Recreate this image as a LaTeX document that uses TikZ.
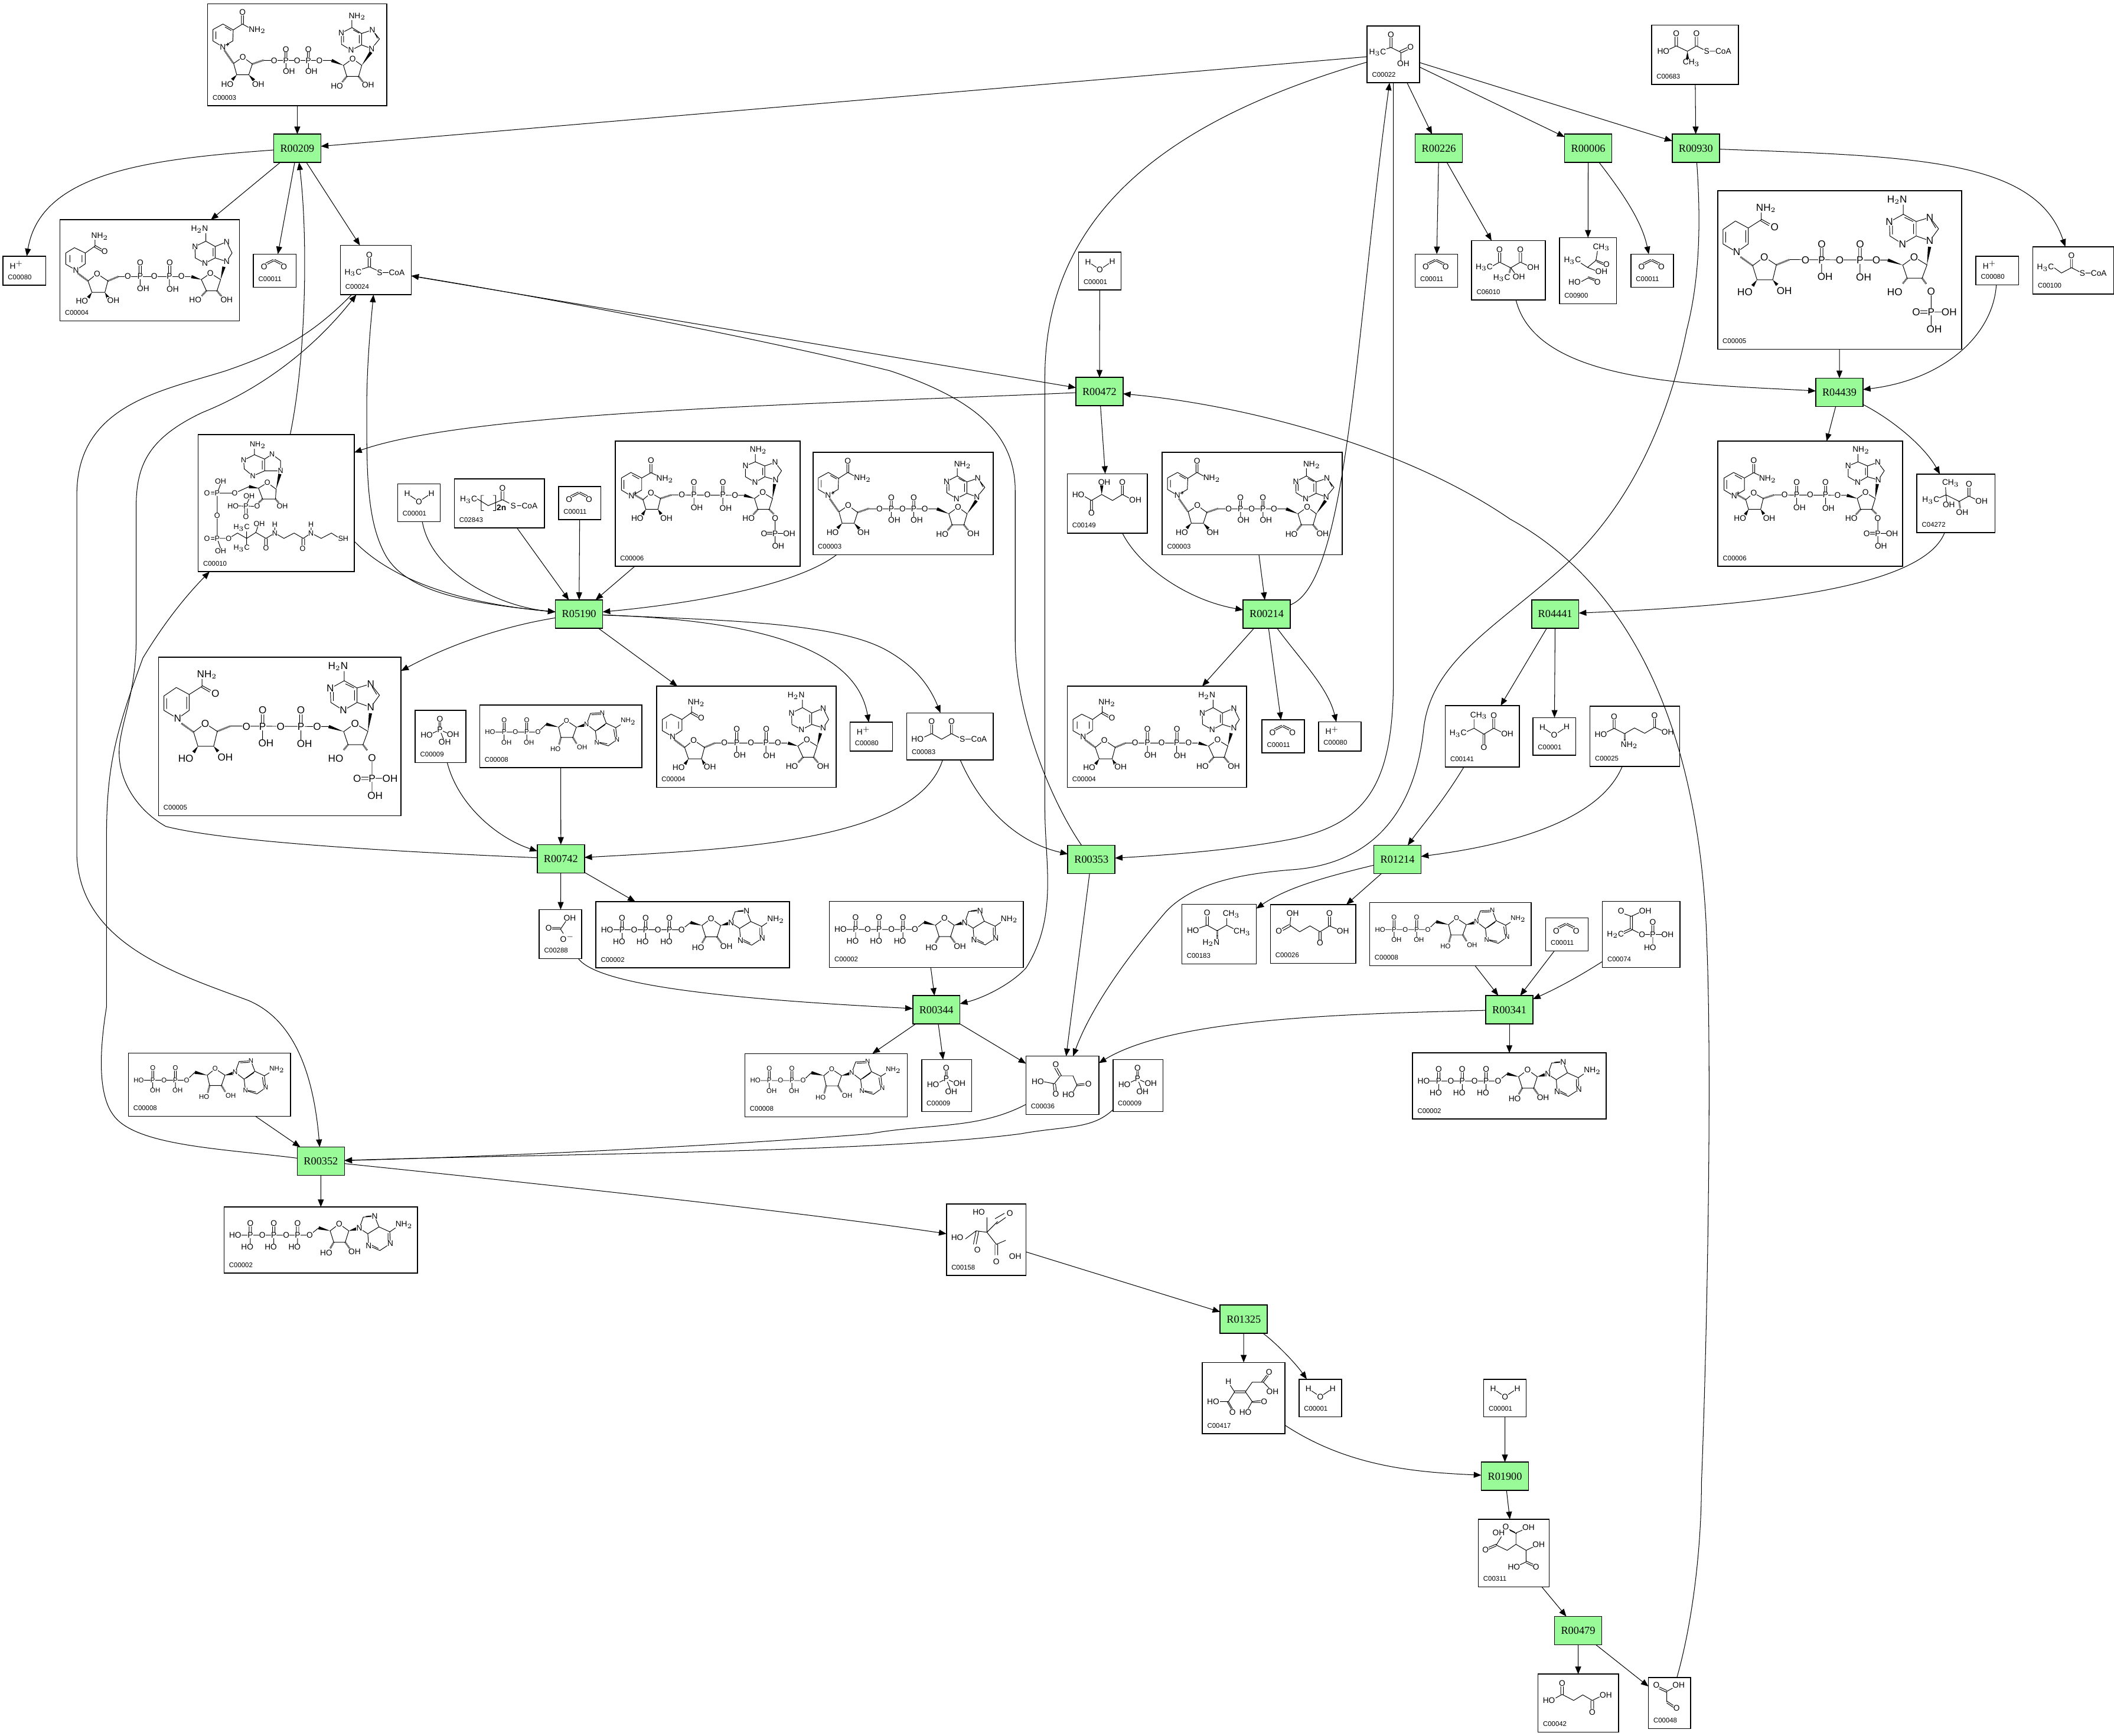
\documentclass[tikz,border=0pt]{standalone}
\usepackage{fontspec}
\setmainfont{Liberation Serif}
\newfontfamily\chemfont{Liberation Sans}
\usetikzlibrary{arrows.meta,calc}

\definecolor{rxgreen}{HTML}{98FB98}
\tikzset{
  cbox/.style={draw,fill=white,line width=.7pt,inner sep=0pt,outer sep=0pt},
  rbox/.style={draw,fill=rxgreen,line width=.7pt,inner sep=0pt,outer sep=0pt,minimum width=35pt,minimum height=21pt,font=\fontsize{8}{8}\selectfont},
  cid/.style={anchor=west,inner sep=0pt,font=\fontsize{5}{5}\selectfont\chemfont},
  rx/.style={line width=.45pt,-{Triangle[length=5.6pt,width=4.4pt]}},
  bond/.style={line width=.42pt},
  hsh/.style={line width=1.3pt,dash pattern=on .35pt off .45pt},
  zm/.style n args={5}{shift={(#1.north west)},x=#2pt,y=-#3pt,shift={(-#4,-#5)}}
}
\newcommand{\cpd}[6]{\node[cbox,minimum width={(#4-#2)*1pt},minimum height={(#5-#3)*1pt}] (#1) at ({(#2+#4)/2},{(#3+#5)/2}) {};
  \node[cid] (#1id) at ([xshift=3.5pt,yshift=6pt]#1.south west) {#6};}
\newcommand{\rxn}[3]{\node[rbox] (#1) at (#2,#3) {#1};}
\newcommand{\atoms}[2][6]{\foreach \ax/\ay/\atxt in {#2} \node[inner sep=.1pt,fill=white,font=\fontsize{#1}{#1}\selectfont\chemfont] (atm) at (\ax,\ay) {\atxt};}
\newcommand{\wdg}[2]{\fill (#1)--($(#2)!1.2pt!90:(#1)$)--($(#2)!1.2pt!-90:(#1)$)--cycle;}

% cofactors
\newcommand{\molNAD}[1]{\begin{scope}[zm={#1}{.146}{.146}{155}{19}]
  \draw[bond] (233,122)--(285,152)--(283,208)--(232,238)--(182,208)--(182,150)--cycle (197,160)--(197,198) (243,137)--(275,155) (285,152)--(332,122)--(370,143) (327,122)--(327,78) (337,122)--(337,78) (248,226)--(264,226) (256,218)--(256,234);
  \draw[bond] (287,322)--(334,290)--(382,325)--(364,380)--(303,380)--cycle (440,307)--(785,307) (548,307)--(548,262) (558,307)--(558,262) (553,307)--(553,350) (662,307)--(662,262) (672,307)--(672,262) (667,307)--(667,350);
  \draw[bond] (845,332)--(892,298)--(938,332)--(922,388)--(862,388)--cycle (888,140)--(834,168)--(835,225)--(884,255)--(937,228)--(937,170)--cycle (888,140)--(888,100) (937,170)--(992,152)--(1028,198)--(988,247)--(937,228) (925,178)--(925,220) (846,178)--(846,215) (895,152)--(925,168) (1000,160)--(1018,195);
  \draw[hsh] (240,255)--(285,320) (382,325)--(440,305) (862,388)--(838,418) (922,388)--(945,418);
  \wdg{303,380}{280,405}\wdg{364,380}{390,408}\wdg{845,332}{785,307}\wdg{938,332}{985,265}
  \atoms{332/63/O,407/152/NH$_2$,232/238/N,334/290/O,255/427/HO,412/427/OH,493/307/O,553/307/P,610/307/O,667/307/P,723/307/O,553/250/O,667/250/O,568/363/OH,682/363/OH,892/298/O,812/436/HO,970/432/OH,915/83/NH$_2$,834/168/N,884/255/N,992/152/N,988/247/N}
\end{scope}}
\newcommand{\molNADH}[1]{\begin{scope}[zm={#1}{.2235}{.146}{199}{216}]
  \draw[bond] (252,472)--(283,440)--(283,385)--(247,358)--(218,385)--(218,442)--cycle (232,395)--(232,432) (272,395)--(272,432) (283,385)--(315,350)--(315,315) (315,346)--(345,372) (312,354)--(342,380);
  \draw[bond] (292,527)--(322,490)--(358,527)--(348,585)--(305,585)--cycle (392,505)--(632,505) (461,503)--(461,450) (469,503)--(469,450) (465,503)--(465,550) (559,503)--(559,450) (567,503)--(567,450) (562,503)--(562,553);
  \draw[bond] (668,520)--(698,488)--(732,520)--(720,577)--(685,577)--cycle (683,325)--(647,352)--(648,410)--(680,437)--(714,410)--(714,352)--cycle (683,325)--(683,285) (714,352)--(752,328)--(770,385)--(752,428)--(714,410) (707,360)--(707,402);
  \draw[hsh] (258,488)--(292,527) (358,527)--(392,505) (685,577)--(668,605) (720,577)--(735,605);
  \wdg{305,585}{293,612}\wdg{348,585}{358,612}\wdg{668,520}{635,505}\wdg{732,520}{743,455}
  \atoms{347/376/O,331/300/NH$_2$,252/472/N,322/490/O,272/628/HO,376/625/OH,424/503/O,465/503/P,512/503/O,562/503/P,602/503/O,465/435/O,563/435/O,475/565/OH,573/568/OH,698/488/O,648/622/HO,752/622/OH,662/265/H$_2$N,647/352/N,680/437/N,752/328/N,752/428/N}
\end{scope}}
\newcommand{\molNADPH}[1]{\begin{scope}[zm={#1}{.191}{.1788}{19}{8}]
  \draw[bond] (93,262)--(138,228)--(138,162)--(88,133)--(40,168)--(40,228)--cycle (50,178)--(50,222) (128,172)--(128,222) (138,162)--(188,128)--(188,98) (188,125)--(222,145) (186,132)--(218,152);
  \draw[bond] (155,318)--(200,282)--(247,315)--(233,377)--(172,377)--cycle (298,293)--(680,295) (418,296)--(418,245) (428,296)--(428,245) (423,296)--(423,350) (567,296)--(567,245) (577,296)--(577,245) (572,296)--(572,350);
  \draw[bond] (738,316)--(782,282)--(832,315)--(813,370)--(755,370)--cycle (740,105)--(686,137)--(688,195)--(737,228)--(790,195)--(790,135)--cycle (740,105)--(740,65) (790,135)--(843,118)--(877,165)--(843,215)--(790,195) (780,145)--(780,187) (698,150)--(698,188) (745,118)--(778,135) (848,130)--(866,162) (848,425)--(848,583) (805,505)--(848,505) (805,515)--(848,515) (848,510)--(895,510);
  \draw[hsh] (108,282)--(155,318) (247,315)--(298,293) (755,370)--(738,392) (813,370)--(830,395);
  \wdg{172,377}{155,402}\wdg{233,377}{250,398}\wdg{738,316}{680,295}\wdg{832,315}{842,240}
  \atoms[7.5]{240/158/O,207/80/NH$_2$,93/262/N,200/282/O,125/428/HO,278/423/OH,360/296/O,423/296/P,493/296/O,572/296/P,635/296/O,423/228/O,572/228/O,436/365/OH,586/367/OH,782/282/O,707/427/HO,848/425/O,716/45/H$_2$N,686/137/N,737/228/N,843/118/N,843/215/N,848/510/P,790/510/O,918/510/OH,860/583/OH}
\end{scope}}
\newcommand{\molNADP}[1]{\begin{scope}[zm={#1}{.191}{.1788}{19}{1047}]
  \draw[bond] (82,1275)--(122,1250)--(122,1200)--(80,1177)--(43,1200)--(43,1250)--cycle (53,1208)--(53,1245) (85,1188)--(112,1204) (122,1200)--(158,1178)--(192,1195) (154,1178)--(154,1142) (162,1178)--(162,1142) (90,1262)--(104,1262) (97,1255)--(97,1269);
  \draw[bond] (127,1290)--(158,1262)--(195,1285)--(185,1330)--(138,1330)--cycle (238,1270)--(520,1272) (321,1270)--(321,1232) (329,1270)--(329,1232) (325,1270)--(325,1310) (433,1270)--(433,1232) (441,1270)--(441,1232) (437,1270)--(437,1310);
  \draw[bond] (560,1285)--(592,1260)--(630,1285)--(617,1330)--(573,1330)--cycle (563,1133)--(525,1150)--(525,1195)--(562,1218)--(600,1195)--(600,1150)--cycle (563,1133)--(563,1100) (600,1150)--(640,1135)--(665,1170)--(642,1208)--(600,1195) (592,1158)--(592,1188) (640,1366)--(640,1483) (605,1425)--(640,1425) (605,1433)--(640,1433) (640,1430)--(675,1430);
  \draw[hsh] (95,1270)--(127,1290) (195,1285)--(238,1270) (573,1330)--(555,1352) (617,1330)--(635,1350);
  \wdg{138,1330}{125,1352}\wdg{185,1330}{197,1350}\wdg{560,1285}{520,1272}\wdg{630,1285}{638,1225}
  \atoms{158/1128/O,212/1205/NH$_2$,82/1275/N,158/1262/O,105/1367/HO,218/1366/OH,278/1270/O,325/1270/P,377/1270/O,437/1270/P,484/1272/O,325/1218/O,437/1218/O,336/1322/OH,448/1325/OH,592/1260/O,537/1366/HO,640/1366/O,575/1085/NH$_2$,525/1150/N,562/1218/N,640/1135/N,642/1208/N,640/1430/P,597/1430/O,695/1430/OH,652/1483/OH}
\end{scope}}
\newcommand{\molATP}[1]{\begin{scope}[zm={#1}{.2235}{.146}{48}{79}]
  \draw[bond] (85,222)--(332,222)--(362,185) (131,222)--(131,175) (139,222)--(139,175) (135,222)--(135,270) (209,222)--(209,175) (217,222)--(217,175) (213,222)--(213,270) (288,222)--(288,175) (296,222)--(296,175) (292,222)--(292,270);
  \draw[bond] (400,200)--(430,165)--(462,200)--(450,258)--(412,258)--cycle (497,187)--(510,130)--(548,127)--(562,180)--(525,215)--cycle (562,180)--(598,205)--(600,265)--(565,300)--(528,275)--(525,215) (518,127)--(542,122) (532,208)--(556,186) (592,212)--(592,255) (535,270)--(560,290) (598,205)--(622,180);
  \draw[hsh] (412,258)--(400,290) (450,258)--(465,290);
  \wdg{400,200}{362,185}\wdg{462,200}{487,190}
  \atoms{85/222/HO,135/222/P,175/222/O,213/222/P,254/222/O,292/222/P,332/222/O,135/162/O,213/162/O,292/162/O,125/282/HO,203/282/HO,282/282/HO,430/165/O,387/313/HO,481/307/OH,497/187/N,548/127/N,600/265/N,528/275/N,645/170/NH$_2$}
\end{scope}}
\newcommand{\molADP}[1]{\begin{scope}[zm={#1}{.146}{.146}{367}{43}]
  \draw[bond] (420,180)--(663,180)--(705,140) (486,180)--(486,132) (496,180)--(496,132) (491,180)--(491,220) (601,180)--(601,132) (611,180)--(611,132) (606,180)--(606,220);
  \draw[bond] (768,155)--(808,122)--(858,155)--(840,207)--(780,207)--cycle (910,140)--(930,85)--(990,82)--(1010,135)--(955,175)--cycle (1010,135)--(1058,158)--(1065,218)--(1020,250)--(962,232)--(955,175) (935,92)--(980,90) (965,170)--(1005,142) (1048,165)--(1054,205) (975,232)--(1015,240) (1058,158)--(1095,135);
  \draw[hsh] (780,207)--(770,245) (840,207)--(860,240);
  \wdg{768,155}{705,140}\wdg{858,155}{900,145}
  \atoms[5]{420/180/HO,491/180/P,548/180/O,606/180/P,663/180/O,491/118/O,606/118/O,503/233/OH,617/233/OH,808/122/O,752/266/HO,887/258/OH,910/140/N,990/82/N,1065/218/N,962/232/N,1122/126/NH$_2$}
\end{scope}}
% small compounds
\newcommand{\molPi}[1]{\begin{scope}[zm={#1}{.146}{.146}{40}{70}]
  \draw[bond] (161,168)--(161,125) (169,168)--(169,125) (165,168)--(115,192) (165,168)--(215,190) (165,168)--(185,220);
  \atoms{165/113/O,165/168/P,98/196/HO,232/192/OH,190/232/OH}
\end{scope}}
\newcommand{\molCO}[1]{\begin{scope}[zm={#1}{.2235}{.146}{842}{391}]
  \draw[bond] (885,445)--(910,425)--(935,445) (882,437)--(908,418) (938,437)--(912,418);
  \atoms{877/456/O,943/456/O}
\end{scope}}
\newcommand{\molHOH}[1]{\begin{scope}[zm={#1}{.146}{.146}{589}{106}]
  \draw[bond] (637,155)--(697,195)--(760,153);
  \atoms{637/155/H,697/195/O,760/153/H}
\end{scope}}
\newcommand{\molHp}[1]{\begin{scope}[zm={#1}{.2235}{.146}{10}{403}]
  \atoms{55/447/H$^+$}
\end{scope}}
\newcommand{\molACoA}[1]{\begin{scope}[zm={#1}{.2235}{.146}{1130}{349}]
  \draw[bond] (1190,475)--(1226,458)--(1250,475) (1222,458)--(1222,412) (1230,458)--(1230,412) (1270,487)--(1292,487);
  \atoms{1226/397/O,1172/487/H$_3$C,1260/487/S,1317/487/CoA}
\end{scope}}
\newcommand{\molPyr}[1]{\begin{scope}[zm={#1}{.2235}{.1564}{128}{124}]
  \draw[bond] (204,178)--(204,225) (211,178)--(211,225) (175,240)--(207,225)--(240,248)--(240,290) (236,242)--(262,225) (242,250)--(268,232);
  \atoms{207/165/O,163/248/H$_3$C,272/222/O,248/302/OH}
\end{scope}}
\newcommand{\molMMC}[1]{\begin{scope}[zm={#1}{.2235}{.1564}{1073}{119}]
  \draw[bond] (1130,235)--(1155,218)--(1192,243)--(1222,218)--(1245,235) (1151,218)--(1151,175) (1159,218)--(1159,175) (1218,218)--(1218,175) (1226,218)--(1226,175) (1266,243)--(1284,243);
  \wdg{1192,243}{1192,282}
  \atoms{1155/160/O,1222/160/O,1112/243/HO,1256/243/S,1311/243/CoA,1205/297/CH$_3$}
\end{scope}}
\newcommand{\molKMB}[1]{\begin{scope}[zm={#1}{.2235}{.1564}{475}{1141}]
  \draw[bond] (540,1265)--(568,1243)--(605,1270)--(637,1243)--(662,1260) (564,1243)--(564,1198) (572,1243)--(572,1198) (633,1243)--(633,1198) (641,1243)--(641,1198) (605,1270)--(618,1295);
  \draw[hsh] (605,1270)--(600,1295);
  \atoms{568/1183/O,637/1183/O,517/1267/H$_3$C,680/1267/OH,575/1318/H$_3$C,632/1313/OH}
\end{scope}}
\newcommand{\molALC}[1]{\begin{scope}[zm={#1}{.2235}{.1564}{767}{1127}]
  \draw[bond] (835,1245)--(860,1268)--(888,1235)--(893,1190) (886,1232)--(915,1248) (890,1240)--(912,1255) (860,1268)--(890,1285) (840,1335)--(862,1318)--(885,1332) (862,1312)--(888,1326);
  \atoms{906/1172/CH$_3$,810/1235/H$_3$C,923/1253/O,906/1288/OH,817/1338/HO,893/1338/O}
\end{scope}}
\newcommand{\molPrCoA}[1]{\begin{scope}[zm={#1}{.191}{.1788}{1244}{241}]
  \draw[bond] (1325,327)--(1355,350)--(1394,328)--(1425,345) (1390,328)--(1390,292) (1398,328)--(1398,292) (1448,350)--(1468,350);
  \atoms{1394/277/O,1293/327/H$_3$C,1436/350/S,1500/350/CoA}
\end{scope}}
\newcommand{\molDHIV}[1]{\begin{scope}[zm={#1}{.191}{.1788}{794}{1184}]
  \draw[bond] (905,1235)--(907,1270)--(910,1298) (875,1285)--(907,1270)--(958,1297)--(996,1275)--(1025,1290) (992,1275)--(992,1240) (1000,1275)--(1000,1240);
  \draw[hsh] (958,1297)--(962,1325);
  \atoms{925/1222/CH$_3$,996/1225/O,848/1292/H$_3$C,918/1312/OH,1045/1295/OH,970/1342/OH}
\end{scope}}
\newcommand{\molMal}[1]{\begin{scope}[zm={#1}{.146}{.148}{922}{66}]
  \draw[bond] (1010,180)--(1045,200)--(1097,170)--(1152,200)--(1202,170)--(1240,190) (1040,200)--(1040,248) (1050,200)--(1050,248) (1197,170)--(1197,125) (1207,170)--(1207,125);
  \wdg{1097,170}{1097,125}
  \atoms{1110/110/OH,1202/110/O,978/170/HO,1268/198/OH,1045/263/O}
\end{scope}}
\newcommand{\molMCoA}[1]{\begin{scope}[zm={#1}{.146}{.148}{106}{1264}]
  \draw[bond] (195,1385)--(232,1368)--(283,1396)--(333,1368)--(372,1388) (227,1368)--(227,1322) (237,1368)--(237,1322) (328,1368)--(328,1322) (338,1368)--(338,1322) (403,1396)--(432,1396);
  \atoms{232/1308/O,333/1308/O,160/1396/HO,388/1396/S,473/1396/CoA}
\end{scope}}
\newcommand{\molKIV}[1]{\begin{scope}[zm={#1}{.146}{.146}{142}{45}]
  \draw[bond] (245,180)--(288,160)--(338,190)--(388,160)--(428,180) (288,160)--(288,112) (333,190)--(333,240) (343,190)--(343,240) (383,160)--(383,110) (393,160)--(393,110);
  \atoms{312/95/CH$_3$,388/95/O,207/187/H$_3$C,457/187/OH,338/257/O}
\end{scope}}
\newcommand{\molGlu}[1]{\begin{scope}[zm={#1}{.146}{.146}{877}{48}]
  \draw[bond] (960,180)--(1000,160)--(1053,187)--(1103,158)--(1155,185)--(1205,155)--(1245,172) (995,160)--(995,115) (1005,160)--(1005,115) (1200,155)--(1200,110) (1210,155)--(1210,110);
  \draw[hsh] (1053,187)--(1053,225);
  \atoms{1000/100/O,1205/95/O,932/190/HO,1272/180/OH,1077/245/NH$_2$}
\end{scope}}
\newcommand{\molAKG}[1]{\begin{scope}[zm={#1}{.2067}{.146}{45}{67}]
  \draw[bond] (115,172)--(150,205)--(187,175)--(223,205)--(257,175)--(285,192) (115,172)--(118,130) (112,168)--(85,190) (118,176)--(90,198) (219,205)--(219,248) (227,205)--(227,248) (253,175)--(253,128) (261,175)--(261,128);
  \atoms{125/112/OH,257/112/O,75/200/O,305/200/OH,223/262/O}
\end{scope}}
\newcommand{\molPEP}[1]{\begin{scope}[zm={#1}{.2067}{.146}{1236}{49}]
  \draw[bond] (1310,110)--(1340,125)--(1370,105) (1336,125)--(1336,190) (1344,125)--(1344,190) (1340,190)--(1378,217)--(1450,217) (1338,186)--(1305,207) (1342,194)--(1310,215) (1413,217)--(1413,170) (1421,217)--(1421,170) (1417,217)--(1417,265);
  \atoms{1303/97/O,1390/97/OH,1417/155/O,1283/217/H$_2$C,1378/217/O,1417/217/P,1470/217/OH,1407/283/HO}
\end{scope}}
\newcommand{\molVal}[1]{\begin{scope}[zm={#1}{.2235}{.146}{1218}{94}]
  \draw[bond] (1275,215)--(1302,200)--(1335,228)--(1367,200)--(1367,165) (1367,200)--(1395,222) (1298,200)--(1298,155) (1306,200)--(1306,155);
  \draw[hsh] (1335,228)--(1335,270);
  \atoms{1302/138/O,1382/143/CH$_3$,1255/228/HO,1418/233/CH$_3$,1315/290/H$_2$N}
\end{scope}}
\newcommand{\molOAA}[1]{\begin{scope}[zm={#1}{.2235}{.146}{701}{865}]
  \draw[bond] (760,995)--(795,1005)--(815,965)--(857,965)--(870,1012)--(858,1045) (811,965)--(796,925) (819,965)--(804,925) (791,1005)--(794,1042) (799,1005)--(802,1042) (870,1008)--(895,1004) (870,1016)--(895,1012);
  \atoms{800/908/O,740/993/HO,908/1005/O,800/1058/O,842/1060/HO}
\end{scope}}
\newcommand{\molBic}[1]{\begin{scope}[zm={#1}{.146}{.146}{670}{1081}]
  \draw[bond] (778,1180)--(805,1140) (732,1172)--(778,1172) (732,1180)--(778,1180) (778,1180)--(800,1215);
  \atoms{825/1125/OH,718/1175/O,812/1225/O$^-$}
\end{scope}}
\newcommand{\molCoA}[1]{\begin{scope}[zm={#1}{.2514}{.146}{62}{48}]
  \draw[bond] (228,150)--(196,178)--(198,222)--(223,258)--(258,232)--(258,172)--cycle (228,150)--(228,115) (258,172)--(280,148)--(305,180)--(305,232)--(258,232) (251,180)--(251,224);
  \draw[bond] (240,320)--(266,292)--(292,325)--(290,375)--(252,375)--cycle (212,312)--(170,345)--(118,345) (118,345)--(118,575)--(152,575) (100,340)--(118,340) (100,350)--(118,350) (118,345)--(128,300) (118,575)--(128,625) (100,570)--(118,570) (100,580)--(118,580);
  \draw[bond] (236,412)--(165,410) (203,410)--(212,375) (199,410)--(199,450) (207,410)--(207,450);
  \draw[bond] (152,575)--(178,548)--(205,575)--(232,545)--(262,575)--(288,548)--(315,575)--(345,548)--(372,575)--(395,548)--(425,575)--(455,548)--(475,570) (205,575)--(205,610) (205,575)--(205,535) (232,545)--(238,515) (258,575)--(258,610) (266,575)--(266,610) (368,575)--(368,610) (376,575)--(376,610) (288,548)--(288,520) (395,548)--(395,520);
  \draw[hsh] (252,375)--(240,395) (290,375)--(300,395);
  \wdg{240,320}{212,312}\wdg{292,325}{303,248}
  \atoms[5.5]{238/100/NH$_2$,196/178/N,223/258/N,280/148/N,305/232/N,266/292/O,310/410/OH,236/412/O,88/345/O,118/345/P,128/285/OH,170/345/O,118/460/O,88/575/O,118/575/P,128/640/OH,152/575/O,212/360/OH,165/410/HO,203/410/P,203/465/O,190/520/H$_3$C,190/625/H$_3$C,242/500/OH,262/625/O,370/628/O,288/548/N,288/505/H,395/548/N,395/505/H,490/575/SH}
\end{scope}}
\newcommand{\molAcyl}[1]{\begin{scope}[zm={#1}{.2514}{.146}{818}{274}]
  \draw[bond] (885,375)--(918,410)--(960,380)--(980,398) (956,380)--(956,335) (964,380)--(964,335) (905,358)--(897,358)--(897,435)--(905,435) (932,358)--(940,358)--(940,435)--(932,435) (1003,410)--(1015,410);
  \atoms{960/322/O,860/380/H$_3$C,992/410/S,1040/410/CoA,957/420/\textbf{2n}}
\end{scope}}
\newcommand{\molCit}[1]{\begin{scope}[zm={#1}{1}{1}{0}{0}]
  \draw[bond] (30,21)--(30,10) (14,26)--(22,20)--(30,21)--(38,13) (36,11)--(43,7) (37,15)--(44,10) (30,21)--(37,30)--(44,27) (36,30)--(36,38) (38,30)--(38,38) (22,20)--(20,30) (24,20)--(22,30);
  \atoms{24/6/HO,47/7/O,8/25/HO,23/34/O,37/43/O,51/39/OH}
\end{scope}}
\newcommand{\molAco}[1]{\begin{scope}[zm={#1}{.2514}{.1788}{63}{18}]
  \draw[bond] (145,112)--(158,140) (158,136)--(190,136) (158,144)--(190,144) (158,140)--(140,180)--(152,210) (136,180)--(148,210) (140,180)--(115,180) (190,140)--(210,100)--(243,100)--(258,72) (238,98)--(253,70) (243,100)--(260,125) (190,140)--(210,180)--(235,176) (210,184)--(235,184) (210,180)--(198,210);
  \atoms{140/97/H,260/57/O,270/140/OH,95/180/HO,245/180/O,152/225/O,190/225/HO}
\end{scope}}
\newcommand{\molIso}[1]{\begin{scope}[zm={#1}{.2514}{.1788}{877}{668}]
  \draw[bond] (945,740)--(930,775)--(962,797)--(988,772)--(1018,797)--(1018,845) (988,772)--(988,725)--(1012,710) (985,722)--(965,708) (990,728)--(970,714) (930,771)--(905,786) (930,779)--(905,794) (1018,797)--(1040,782) (1018,845)--(995,860) (1018,841)--(1040,856) (1018,849)--(1040,864);
  \atoms{958/700/O,1025/702/OH,937/723/OH,1055/772/OH,898/795/O,982/867/HO,1047/867/O}
\end{scope}}
\newcommand{\molSuc}[1]{\begin{scope}[zm={#1}{.2514}{.1788}{1053}{1311}]
  \draw[bond] (1105,1410)--(1124,1395)--(1158,1420)--(1185,1397)--(1213,1420)--(1235,1405) (1120,1395)--(1120,1362) (1128,1395)--(1128,1362) (1209,1420)--(1209,1455) (1217,1420)--(1217,1455);
  \atoms{1124/1348/O,1085/1420/HO,1253/1397/OH,1213/1470/O}
\end{scope}}
\newcommand{\molGly}[1]{\begin{scope}[zm={#1}{.2514}{.1788}{1379}{1326}]
  \draw[bond] (1410,1364)--(1433,1379) (1410,1372)--(1433,1387) (1433,1383)--(1452,1368) (1433,1383)--(1433,1427) (1433,1423)--(1452,1441) (1433,1431)--(1452,1449);
  \atoms{1402/1358/O,1468/1358/OH,1462/1453/O}
\end{scope}}

\begin{document}
\begin{tikzpicture}[x=1pt,y=-1pt]
  \useasboundingbox (0,0) rectangle (1568,1287.3);
  % reactions
  \rxn{R00209}{220.5}{110}
  \rxn{R00226}{1067.2}{110}
  \rxn{R00006}{1178}{110}
  \rxn{R00930}{1257.8}{110}
  \rxn{R00472}{815.5}{290.5}
  \rxn{R04439}{1364.3}{291}
  \rxn{R05190}{429.5}{455.5}
  \rxn{R00214}{939.5}{455.5}
  \rxn{R04441}{1153.5}{455.5}
  \rxn{R00742}{416}{637}
  \rxn{R00353}{809.5}{637.5}
  \rxn{R01214}{1036.5}{637.5}
  \rxn{R00344}{694.5}{749}
  \rxn{R00341}{1119.5}{749}
  \rxn{R00352}{238}{861.3}
  \rxn{R01325}{922.5}{978.5}
  \rxn{R01900}{1116.2}{1095}
  \rxn{R00479}{1170.5}{1209.5}
  % compounds
  \cpd{Ca3}{154}{2.8}{287}{78.5}{C00003}\molNAD{Ca3}
  \cpd{Cb3}{603}{335.4}{736.6}{411.4}{C00003}\molNAD{Cb3}
  \cpd{Cc3}{862}{335.4}{995.6}{411.4}{C00003}\molNAD{Cc3}
  \cpd{Ca4}{44.5}{163}{177.6}{238}{C00004}\molNADH{Ca4}
  \cpd{Cb4}{487}{509}{620.2}{584}{C00004}\molNADH{Cb4}
  \cpd{Cc4}{791.6}{509}{924.7}{584}{C00004}\molNADH{Cc4}
  \cpd{Ca5}{1274}{141.6}{1455}{259}{C00005}\molNADPH{Ca5}
  \cpd{Cb5}{117.6}{487.6}{297.5}{605}{C00005}\molNADPH{Cb5}
  \cpd{Ca6}{1274.2}{327.2}{1411.3}{420}{C00006}\molNADP{Ca6}
  \cpd{Cb6}{456.3}{327.2}{593.4}{420}{C00006}\molNADP{Cb6}
  \cpd{Ca2}{442}{668.8}{585.5}{717.8}{C00002}\molATP{Ca2}
  \cpd{Cb2}{615.2}{668.6}{759}{717.6}{C00002}\molATP{Cb2}
  \cpd{Cc2}{1047.7}{781}{1191.3}{830}{C00002}\molATP{Cc2}
  \cpd{Cd2}{166.2}{895.3}{309.7}{944.3}{C00002}\molATP{Cd2}
  \cpd{Ca8}{355.8}{523}{476}{569.5}{C00008}\molADP{Ca8}
  \cpd{Cb8}{552.5}{781.5}{673}{828.5}{C00008}\molADP{Cb8}
  \cpd{Cc8}{1015.9}{669.5}{1135.8}{716.3}{C00008}\molADP{Cc8}
  \cpd{Cd8}{95.2}{781.2}{215.6}{828}{C00008}\molADP{Cd8}
  \cpd{Ca9}{308}{527}{345.5}{565.6}{C00009}\molPi{Ca9}
  \cpd{Cb9}{683.6}{786}{720.7}{824.5}{C00009}\molPi{Cb9}
  \cpd{Cc9}{825.5}{786}{862.6}{824.5}{C00009}\molPi{Cc9}
  \cpd{Ca11}{188}{188.5}{219.7}{213}{C00011}\molCO{Ca11}
  \cpd{Cb11}{1049.7}{188.5}{1081.2}{213}{C00011}\molCO{Cb11}
  \cpd{Cc11}{1209.7}{188.5}{1241.2}{213}{C00011}\molCO{Cc11}
  \cpd{Cd11}{414.3}{361}{445.7}{385.5}{C00011}\molCO{Cd11}
  \cpd{Ce11}{936}{534}{967.5}{558.5}{C00011}\molCO{Ce11}
  \cpd{Cf11}{1146.5}{680.9}{1178}{705.3}{C00011}\molCO{Cf11}
  \cpd{Ca1}{800}{187}{831.5}{215}{C00001}\molHOH{Ca1}
  \cpd{Cb1}{295}{359}{326.5}{387}{C00001}\molHOH{Cb1}
  \cpd{Cc1}{1137}{532.3}{1168.8}{560.3}{C00001}\molHOH{Cc1}
  \cpd{Cd1}{963.5}{1023}{995}{1051}{C00001}\molHOH{Cd1}
  \cpd{Ce1}{1100.5}{1023}{1132}{1051}{C00001}\molHOH{Ce1}
  \cpd{Ca80}{2.2}{190}{34}{211.5}{C00080}\molHp{Ca80}
  \cpd{Cb80}{1465.6}{190}{1497.3}{211.4}{C00080}\molHp{Cb80}
  \cpd{Cc80}{978}{535.5}{1009.6}{557}{C00080}\molHp{Cc80}
  \cpd{Cd80}{630.4}{535.7}{662}{557.2}{C00080}\molHp{Cd80}
  \cpd{C24}{252.5}{182}{305}{218.6}{C00024}\molACoA{C24}
  \cpd{C22}{1014}{19.4}{1053}{61.4}{C00022}\molPyr{C22}
  \cpd{C683}{1225}{18.6}{1289.5}{62.7}{C00683}\molMMC{C683}
  \cpd{C6010}{1091.5}{178.5}{1146.3}{222.6}{C06010}\molKMB{C6010}
  \cpd{C900}{1156.7}{176.3}{1198.9}{225.3}{C00900}\molALC{C900}
  \cpd{C100}{1507.8}{183}{1567.7}{218}{C00100}\molPrCoA{C100}
  \cpd{C4272}{1421.8}{351.7}{1479.7}{395}{C04272}\molDHIV{C4272}
  \cpd{C149}{791.6}{351.4}{851}{395.6}{C00149}\molMal{C149}
  \cpd{C83}{672.6}{528.8}{736.6}{563.6}{C00083}\molMCoA{C83}
  \cpd{C141}{1072}{523.4}{1127}{569}{C00141}\molKIV{C141}
  \cpd{C25}{1179.3}{523.9}{1245.8}{568.6}{C00025}\molGlu{C25}
  \cpd{C26}{942.3}{671}{1005.5}{714.5}{C00026}\molAKG{C26}
  \cpd{C74}{1188.5}{668.6}{1246}{717.6}{C00074}\molPEP{C74}
  \cpd{C183}{876.6}{670.8}{931.8}{715}{C00183}\molVal{C183}
  \cpd{C36}{761}{783.4}{815}{826.7}{C00036}\molOAA{C36}
  \cpd{C288}{400}{674.7}{431.5}{711}{C00288}\molBic{C288}
  \cpd{C10}{147}{322.4}{262.7}{424}{C00010}\molCoA{C10}
  \cpd{C2843}{337}{355.2}{403.7}{391.6}{C02843}\molAcyl{C2843}
  \cpd{C158}{702}{893}{761}{946}{C00158}\molCit{C158}
  \cpd{C417}{891.8}{1010.6}{953}{1063.4}{C00417}\molAco{C417}
  \cpd{C311}{1096.5}{1126.9}{1149}{1177}{C00311}\molIso{C311}
  \cpd{C42}{1140.8}{1241.8}{1200.4}{1284.9}{C00042}\molSuc{C42}
  \cpd{C48}{1222.7}{1244.4}{1254}{1282.2}{C00048}\molGly{C48}
  % straight connectors
  \draw[rx] (Ca3) -- (R00209);
  \draw[rx] (C22) -- (R00209);
  \draw[rx] (R00209) -- (Ca4);
  \draw[rx] (R00209) -- (Ca11);
  \draw[rx] (R00209) -- (C24);
  \draw[rx] (C24) -- (R00472);
  \draw[rx] (Ca1) -- (R00472);
  \draw[rx] (R00472) -- (C149);
  \draw[rx] (C22) -- (R00226);
  \draw[rx] (C22) -- (R00006);
  \draw[rx] (C22) -- (R00930);
  \draw[rx] (C683) -- (R00930);
  \draw[rx] (R00226) -- (Cb11);
  \draw[rx] (R00226) -- (C6010);
  \draw[rx] (R00006) -- (C900);
  \draw[rx] (Ca5) -- (R04439);
  \draw[rx] (R04439) -- (Ca6);
  \draw[rx] (C2843) -- (R05190);
  \draw[rx] (Cd11) -- (R05190);
  \draw[rx] (Cb6) -- (R05190);
  \draw[rx] (R05190) -- (Cb4);
  \draw[rx] (Cc3) -- (R00214);
  \draw[rx] (R00214) -- (Cc4);
  \draw[rx] (R00214) -- (Ce11);
  \draw[rx] (R04441) -- (C141);
  \draw[rx] (R04441) -- (Cc1);
  \draw[rx] (Ca8) -- (R00742);
  \draw[rx] (R00742) -- (C288);
  \draw[rx] (R00742) -- (Ca2);
  \draw[rx] (R00353) -- (C36);
  \draw[rx] (R01214) -- (C26);
  \draw[rx] (Cb2) -- (R00344);
  \draw[rx] (R00344) -- (Cb8);
  \draw[rx] (R00344) -- (Cb9);
  \draw[rx] (R00344) -- (C36);
  \draw[rx] (Cc8) -- (R00341);
  \draw[rx] (Cf11) -- (R00341);
  \draw[rx] (R00341) -- (Cc2);
  \draw[rx] (Cd8) -- (R00352);
  \draw[rx] (R00352) -- (Cd2);
  \draw[rx] (C158) -- (R01325);
  \draw[rx] (R01325) -- (C417);
  \draw[rx] (Ce1) -- (R01900);
  \draw[rx] (R01900) -- (C311);
  \draw[rx] (C311) -- (R00479);
  \draw[rx] (R00479) -- (C42);
  \draw[rx] (R00479) -- (C48);
  % curved connectors
  \draw[rx] (R00209) .. controls (110,118) and (30,128) .. (Ca80);
  \draw[rx] (C10) .. controls (228,260) and (228,170) .. (R00209);
  \draw[rx] (R00472) .. controls (600,300) and (350,305) .. (C10.33);
  \draw[rx] (C10.-26) .. controls (300,440) and (370,450) .. (R05190);
  \draw[rx] (R05190) .. controls (350,448) and (300,440) .. (285,410) .. controls (272,385) and (272,350) .. (272,304) .. controls (272,270) and (275,240) .. (C24);
  \draw[rx] (Cb1) .. controls (320,425) and (370,450) .. (R05190);
  \draw[rx] (Cb3) .. controls (590,435) and (510,448) .. (R05190);
  \draw[rx] (R05190) .. controls (370,465) and (330,480) .. (Cb5);
  \draw[rx] (R05190) .. controls (560,460) and (635,480) .. (Cd80);
  \draw[rx] (R05190) .. controls (540,460) and (620,462) .. (657,482) .. controls (675,492) and (688,505) .. (C83);
  \draw[rx] (Ca9) .. controls (340,598) and (370,622) .. (R00742);
  \draw[rx] (C83) .. controls (680,625) and (540,630) .. (R00742);
  \draw[rx] (C83) .. controls (728,600) and (755,625) .. (R00353);
  \draw[rx] (R00353) .. controls (780,595) and (753,530) .. (753,475) -- (753,364) .. controls (753,320) and (720,295) .. (660,275) .. controls (560,250) and (400,220) .. (C24);
  \draw[rx] (C24) .. controls (230,250) and (205,262) .. (167.6,275) .. controls (120,290) and (57,300) .. (57,367) -- (57,635) .. controls (60,700) and (130,722) .. (184,742) .. controls (215,755) and (232,790) .. (R00352);
  \draw[rx] (R00742) .. controls (300,632) and (170,625) .. (123,613) .. controls (100,600) and (85,575) .. (89,550) .. controls (92,530) and (101,510) .. (101,474) -- (101,376) .. controls (101,345) and (110,325) .. (150,306) .. controls (190,290) and (230,262) .. (C24);
  \draw[rx] (R00352) .. controls (165,852) and (100,850) .. (84,827) .. controls (75,815) and (72,790) .. (79,747) -- (79,622) .. controls (79,570) and (85,545) .. (106,488) .. controls (120,465) and (135,445) .. (C10);
  \draw[rx] (C288) .. controls (445,733) and (560,742) .. (R00344);
  \draw[rx] (C22) .. controls (880,85) and (775,150) .. (775,280) -- (775,600) .. controls (775,640) and (785,680) .. (761,718) .. controls (750,730) and (730,740) .. (R00344);
  \draw[rx] (C36) .. controls (725,838) and (690,833) .. (645,841) .. controls (560,848) and (400,857) .. (R00352);
  \draw[rx] (Cc9) .. controls (810,838) and (790,835) .. (757,841) .. controls (650,855) and (400,856) .. (R00352);
  \draw[rx] (R00341) .. controls (1000,752) and (870,755) .. (C36);
  \draw[rx] (R00930) .. controls (1262,170) and (1260,210) .. (1251,245) .. controls (1240,300) and (1215,370) .. (1160,420) .. controls (1110,465) and (1062,490) .. (1056,540) .. controls (1050,600) and (1020,640) .. (960,645) .. controls (920,648) and (885,655) .. (865,676) .. controls (840,705) and (810,745) .. (C36);
  \draw[rx] (C22) -- (1033.5,500) .. controls (1034,580) and (1015,610) .. (960,622) .. controls (920,630) and (870,634) .. (R00353);
  \draw[rx] (R00214) .. controls (1000,432) and (1005,250) .. (C22);
  \draw[rx] (R00006) .. controls (1205,145) and (1218,165) .. (Cc11);
  \draw[rx] (R00930) .. controls (1420,116) and (1510,118) .. (C100);
  \draw[rx] (C6010) .. controls (1140,285) and (1260,285) .. (R04439);
  \draw[rx] (Cb80) .. controls (1478,250) and (1440,282) .. (R04439);
  \draw[rx] (R04439) .. controls (1405,312) and (1428,332) .. (C4272);
  \draw[rx] (C4272) .. controls (1425,440) and (1280,450) .. (R04441);
  \draw[rx] (C149) .. controls (845,420) and (880,445) .. (R00214);
  \draw[rx] (R00214) .. controls (965,490) and (985,510) .. (Cc80);
  \draw[rx] (C141) .. controls (1070,595) and (1055,612) .. (R01214);
  \draw[rx] (C25) .. controls (1185,612) and (1110,628) .. (R01214);
  \draw[rx] (R01214) .. controls (985,650) and (955,658) .. (C183);
  \draw[rx] (C74.215) .. controls (1170,725) and (1155,733) .. (R00341);
  \draw[rx] (R00352) .. controls (420,880) and (600,900) .. (C158);
  \draw[rx] (R01325) .. controls (945,995) and (960,1010) .. (Cd1);
  \draw[rx] (C417) .. controls (1000,1088) and (1050,1092) .. (R01900);
  \draw[rx] (C48) .. controls (1255,1205) and (1262,1150) .. (1262,1100) .. controls (1266,1000) and (1270,800) .. (1266,700) .. controls (1262,560) and (1220,440) .. (1120,385) .. controls (1040,330) and (920,300) .. (R00472);
\end{tikzpicture}
\end{document}
